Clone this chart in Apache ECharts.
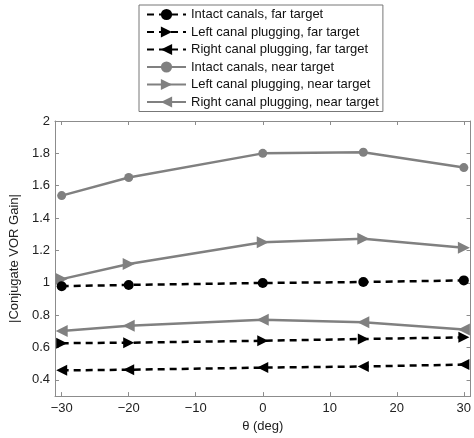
<!DOCTYPE html>
<html>
<head>
<meta charset="utf-8">
<script src="https://cdn.jsdelivr.net/npm/echarts@6/dist/echarts.min.js"></script>
<style>html,body{margin:0;padding:0;background:#fff}#c{width:474px;height:438px}</style>
</head>
<body>
<div id="c"></div>
<script>
const thetas = [-30, -20, 0, 15, 30];
const seriesNames = [
  'Intact canals, far target',
  'Left canal plugging, far target',
  'Right canal plugging, far target',
  'Intact canals, near target',
  'Left canal plugging, near target',
  'Right canal plugging, near target'
];
const intactFar = [0.979, 0.987, 0.999, 1.005, 1.015];
const leftFar = [0.627, 0.630, 0.642, 0.653, 0.663];
const rightFar = [0.459, 0.463, 0.476, 0.483, 0.495];
const intactNear = [1.539, 1.651, 1.800, 1.807, 1.712];
const leftNear = [1.023, 1.116, 1.251, 1.273, 1.216];
const rightNear = [0.703, 0.735, 0.772, 0.757, 0.711];
const xTicks = [-30, -20, -10, 0, 10, 20, 30];
const yTicks = [0.4, 0.6, 0.8, 1, 1.2, 1.4, 1.6, 1.8, 2];

const FONT = '"Liberation Sans", Arial, sans-serif';
const AX = '#8c8c8c';
const triR = 'path://M0,0 L10,5 L0,10 Z';
const triL = 'path://M10,0 L0,5 L10,10 Z';

function pts(vals) { return thetas.map((t, i) => [t, vals[i]]); }
function far(name, vals, symbol, size) {
  return {
    name, type: 'line', data: pts(vals), symbol, symbolSize: size,
    itemStyle: { color: '#000' },
    lineStyle: { color: '#000', width: 2.5, type: [7, 5] },
    emphasis: { disabled: true }, animation: false, z: 3
  };
}
function near(name, vals, symbol, size) {
  return {
    name, type: 'line', data: pts(vals), symbol, symbolSize: size,
    itemStyle: { color: '#808080' },
    lineStyle: { color: '#808080', width: 2.5, type: 'solid' },
    emphasis: { disabled: true }, animation: false, z: 2
  };
}
const minusFmt = v => String(v).replace('-', '\u2212');

const chart = echarts.init(document.getElementById('c'), null, { renderer: 'canvas' });
chart.setOption({
  animation: false,
  textStyle: { fontFamily: FONT },
  grid: { left: 50, right: 1, top: 121, bottom: 36, containLabel: false },
  legend: {
    orient: 'vertical', left: 139, top: 5,
    backgroundColor: '#fff', borderColor: '#777', borderWidth: 1,
    padding: [3, 4, 3, 7], itemWidth: 39, itemHeight: 14, itemGap: 4.5,
    textStyle: { fontSize: 13, color: '#111', fontFamily: FONT },
    data: seriesNames
  },
  xAxis: [{
    type: 'value', min: -31, max: 31, position: 'bottom',
    name: 'θ (deg)', nameLocation: 'middle', nameGap: 20,
    nameTextStyle: { fontSize: 13, color: '#222', fontFamily: FONT },
    axisLine: { show: true, onZero: false, lineStyle: { color: AX, width: 1 } },
    axisTick: { show: true, inside: true, length: 4, customValues: xTicks, lineStyle: { color: AX } },
    axisLabel: { show: true, customValues: xTicks, formatter: minusFmt, fontSize: 13, color: '#222', margin: 6, fontFamily: FONT },
    splitLine: { show: false }
  }, {
    type: 'value', min: -31, max: 31, position: 'top',
    axisLine: { show: true, onZero: false, lineStyle: { color: AX, width: 1 } },
    axisTick: { show: true, inside: true, length: 4, customValues: xTicks, lineStyle: { color: AX } },
    axisLabel: { show: false }, splitLine: { show: false }
  }],
  yAxis: [{
    type: 'value', min: 0.3, max: 2, position: 'left',
    name: '|Conjugate VOR Gain|', nameLocation: 'middle', nameGap: 23,
    nameTextStyle: { fontSize: 13, color: '#222', fontFamily: FONT },
    axisLine: { show: true, onZero: false, lineStyle: { color: AX, width: 1 } },
    axisTick: { show: true, inside: true, length: 4, customValues: yTicks, lineStyle: { color: AX } },
    axisLabel: { show: true, customValues: yTicks, fontSize: 13, color: '#222', margin: 5, fontFamily: FONT },
    splitLine: { show: false }
  }, {
    type: 'value', min: 0.3, max: 2, position: 'right',
    axisLine: { show: true, onZero: false, lineStyle: { color: AX, width: 1 } },
    axisTick: { show: true, inside: true, length: 4, customValues: yTicks, lineStyle: { color: AX } },
    axisLabel: { show: false }, splitLine: { show: false }
  }],
  series: [
    far(seriesNames[0], intactFar, 'circle', 10),
    far(seriesNames[1], leftFar, triR, 11),
    far(seriesNames[2], rightFar, triL, 11),
    near(seriesNames[3], intactNear, 'circle', 9),
    near(seriesNames[4], leftNear, triR, 12),
    near(seriesNames[5], rightNear, triL, 12)
  ]
});
</script>
</body>
</html>
